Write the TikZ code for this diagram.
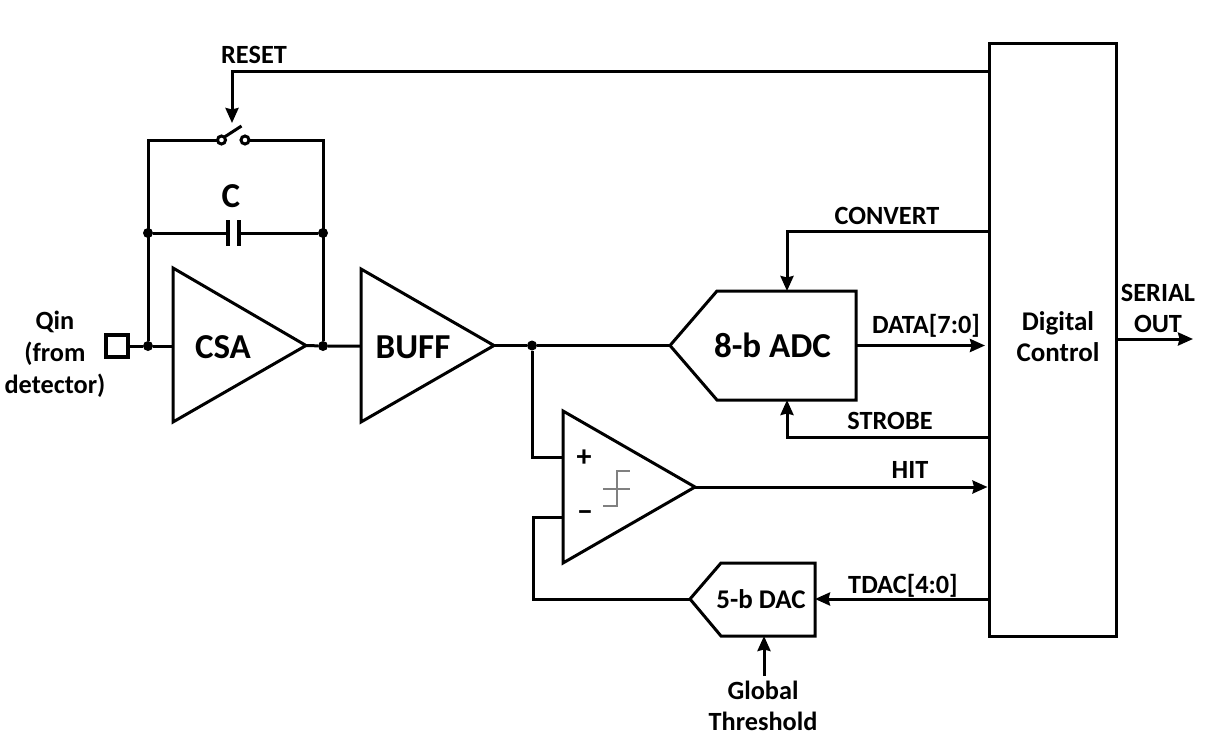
\documentclass[tikz,border=0pt]{standalone}
\usepackage{fontspec}
\setmainfont{Carlito}
\usetikzlibrary{arrows.meta,calc}
\tikzset{
  wire/.style={line width=3pt,line cap=butt,line join=miter},
  sig/.style={wire,-{Stealth[length=15pt,width=13pt,inset=1.5pt]}},
  blockline/.style={line width=3pt,line join=miter},
  junction/.style={circle,fill=black,inner sep=0pt,minimum size=10pt},
  lab/.style={inner sep=0pt,align=center,font=\bfseries\fontsize{26.3}{31}\selectfont},
  biglab/.style={inner sep=0pt,align=center,font=\bfseries\fontsize{35}{36}\selectfont},
  midlab/.style={inner sep=0pt,align=center,font=\bfseries\fontsize{27}{31}\selectfont},
}
\begin{document}
\begin{tikzpicture}[x=1pt,y=-1pt]
  \useasboundingbox (0,0) rectangle (1208,745);

  %% blocks
  \node [draw,blockline,minimum width=127pt,minimum height=593pt,inner sep=0pt] (ctrl) at (1052.5,339.5) {};
  \node [draw,blockline,line width=3.3pt,minimum width=22pt,minimum height=22pt,inner sep=0pt] (qin) at (117,346) {};
  \draw [blockline] (173,268) coordinate (csatop) -- (306,345.5) coordinate (csaout) -- (173,422) -- cycle;
  \draw [blockline] (361,269) -- (494,345.5) coordinate (buffout) -- (361,422) -- cycle;
  \draw [blockline] (563,411) -- (695,487) coordinate (cmpout) -- (563,563) -- cycle;
  \draw [blockline] (670,345.5) coordinate (adcin) -- (717,291) -- (856,291) -- (856,400) -- (717,400) -- cycle;
  \draw [blockline] (690,599) coordinate (dacout) -- (721,563) -- (815,563) -- (815,636) -- (721,636) -- cycle;

  %% block labels
  \node [biglab] (csalab) at (223,347) {CSA};
  \node [biglab] (bufflab) at (413,347) {BUFF};
  \node [biglab] (adclab) at (772.5,345) {8-b ADC};
  \node [midlab] (daclab) at (761,599) {5-b DAC};
  \node [midlab] (ctrllab) at (1058,336.5) {Digital\\Control};

  %% switch and capacitor in the feedback
  \coordinate (swl) at (221.5,140);
  \coordinate (swr) at (245,140);
  \coordinate (capl) at (228,233);
  \coordinate (capr) at (239,233);
  \node [junction] (j1) at (148,233) {};
  \node [junction] (j2) at (323,233) {};
  \node [junction] (j3) at (148,346) {};
  \node [junction] (j4) at (323,346) {};
  \draw [wire] (j3) -- (148,140) -- (swl);
  \draw [wire] (j4) -- (323,140) -- (swr);
  \draw [wire,fill=white] (swl) circle (4pt) (swr) circle (4pt);
  \draw [wire] ($(swl)+(3,-3)$) -- (241.5,126);
  \draw [wire] (j1) -- (capl);
  \draw [wire] (j2) -- (capr);
  \draw [line width=3.4pt] (228,220) -- (228,246) (239,220) -- (239,246);
  \node [biglab] (clab) at (231,196) {C};

  %% signal path
  \draw [wire] (qin) -- (j3) -- (173,346);
  \draw [wire] (csaout) -- (j4) -- (361,346);
  \node [junction] (j5) at (532,345.5) {};
  \draw [wire] (buffout) -- (j5) -- (adcin);
  \draw [wire] (j5) -- (532,457) -- (563,457);
  \draw [wire] (563,517) -- (533,517) -- (533,599) -- (dacout);
  \draw [sig] (cmpout) -- (ctrl.west |- cmpout);
  \draw [sig] (856,345.5) -- (985,345.5);
  \draw [sig] (ctrl.east |- 0,339) -- (1193,339);

  %% control lines
  \draw [sig] (ctrl.west |- 0,71.5) -- (232,71.5) -- (232,123);
  \draw [sig] (ctrl.west |- 0,231) -- (787,231) -- (787,291);
  \draw [sig] (ctrl.west |- 0,437) -- (787,437) -- (787,400);
  \draw [sig] (ctrl.west |- 0,599) -- (815,599);
  \coordinate (gt) at (764,676);
  \draw [sig] (gt) -- (764,636);

  %% comparator symbol
  \draw [gray,line width=1.8pt] (603,506) -- (617,506) -- (617,471) -- (630,471) (603,489) -- (630,489);
  \node [lab,font=\bfseries\fontsize{30}{31}\selectfont] (plus) at (584,458) {+};
  \node [lab,font=\bfseries\fontsize{30}{31}\selectfont] (minus) at (585,516) {−};

  %% labels
  \node [lab] (resetlab) at (254,55) {RESET};
  \node [lab] (convlab) at (887,216) {CONVERT};
  \node [lab] (datalab) at (926,326) {DATA[7:0]};
  \node [lab] (strobelab) at (890,421) {STROBE};
  \node [lab] (hitlab) at (910,470) {HIT};
  \node [lab] (tdaclab) at (903,586) {TDAC[4:0]};
  \node [lab] (outlab) at (1158,308) {SERIAL\\OUT};
  \node [lab] (gtlab) at (763,705.5) {Global\\Threshold};
  \node [lab,font=\bfseries\fontsize{26.3}{32}\selectfont] (qinlab) at (55,354) {Qin\\(from\\detector)};
\end{tikzpicture}
\end{document}
